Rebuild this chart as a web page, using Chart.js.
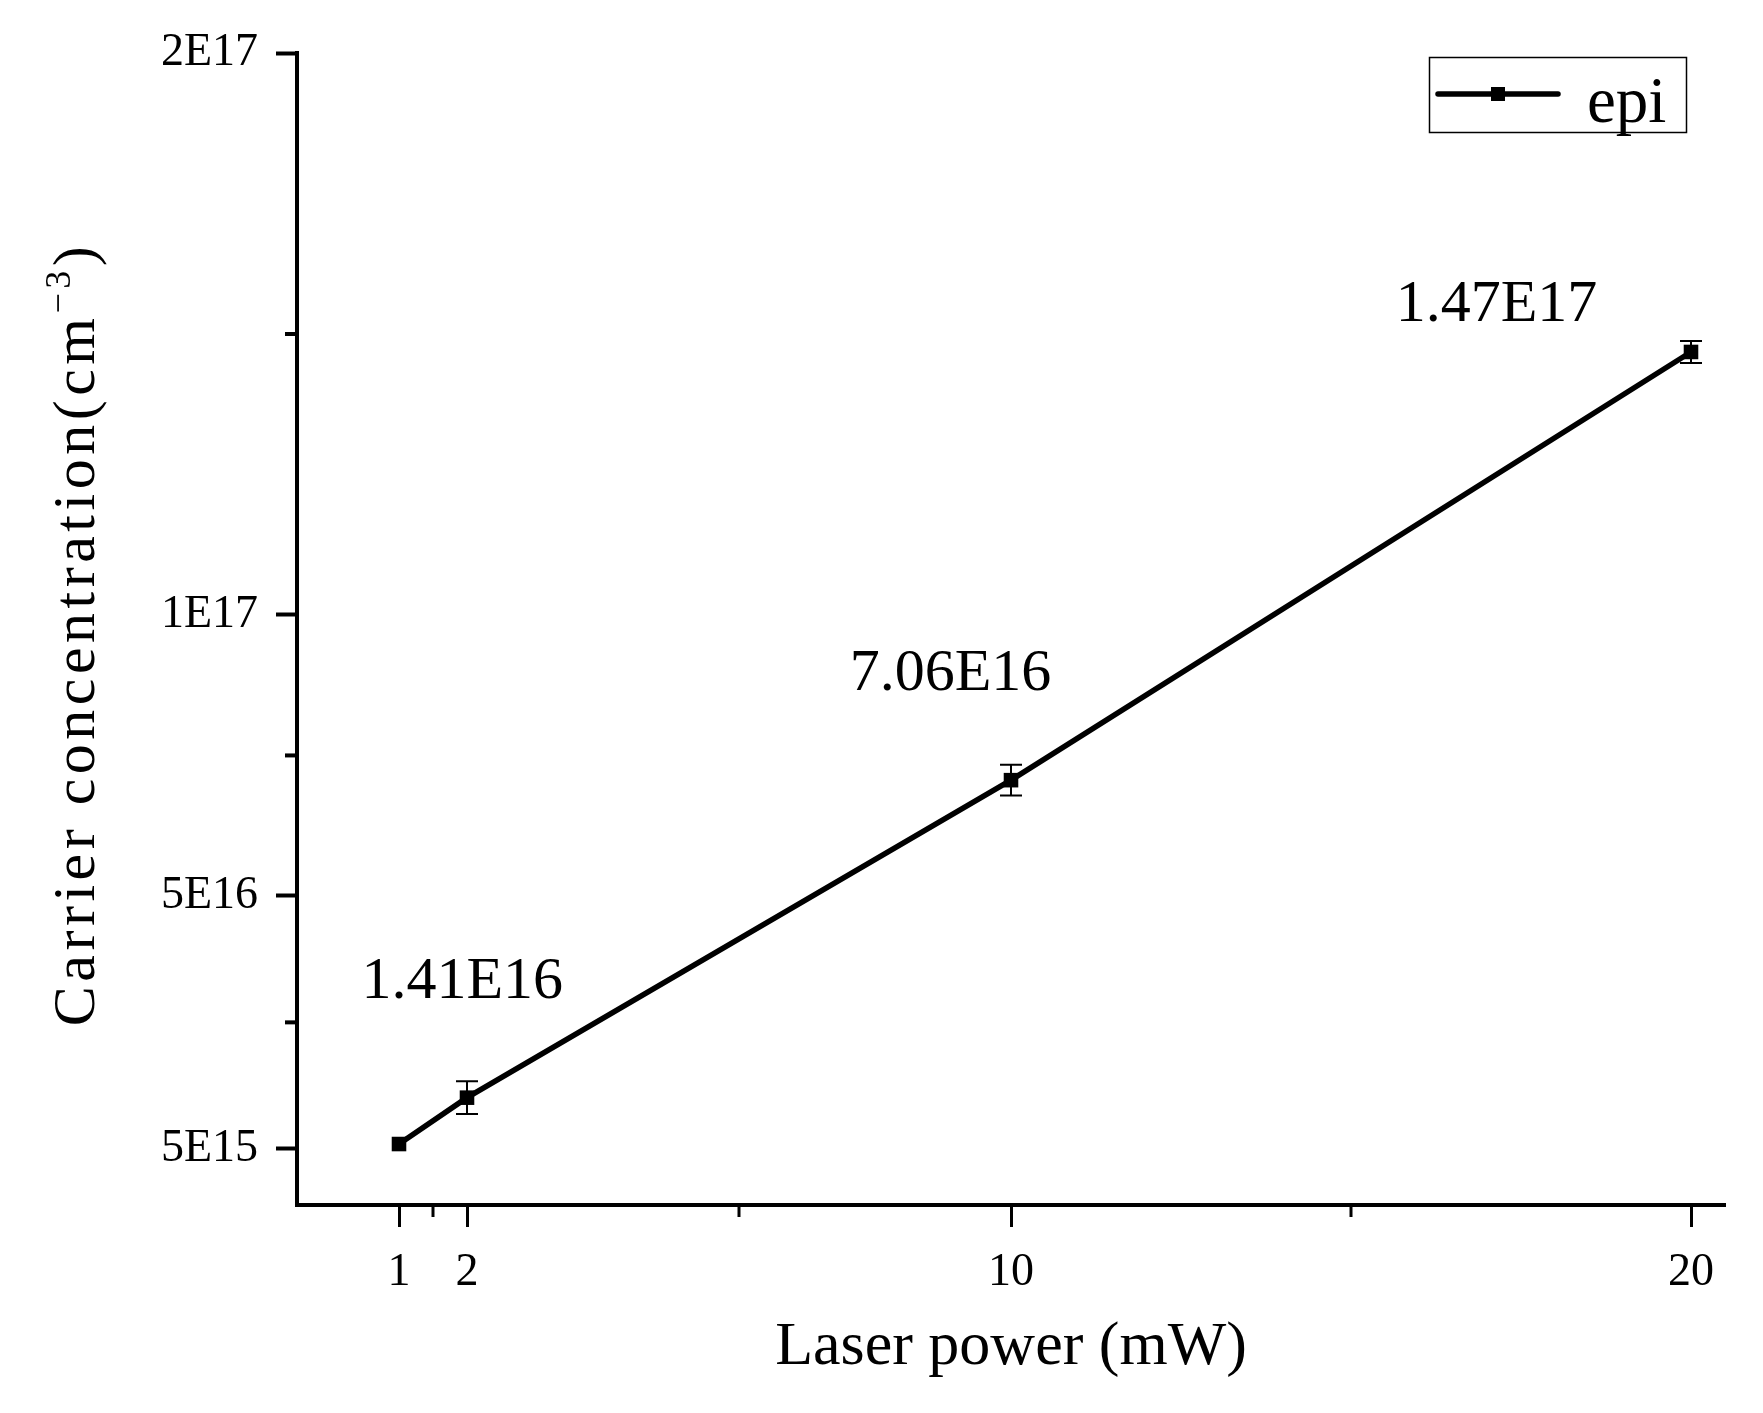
<!DOCTYPE html>
<html><head><meta charset="utf-8">
<script src="https://cdn.jsdelivr.net/npm/chart.js@4/dist/chart.umd.min.js"></script>
<style>html,body{margin:0;padding:0;background:#fff;} canvas{display:block;}</style>
</head><body>
<canvas id="c" width="1763" height="1413"></canvas>
<script>
// ---- data ----
const laserPower = [1, 2, 10, 20];
const carrierConc = [5.85e15, 1.41e16, 7.06e16, 1.468e17];
const concError = [0, 2.9e15, 2.75e15, 1.95e15];
const seriesName = 'epi';
const xMajorTicks = [1, 2, 10, 20];
const xMinorTicks = [1.5, 6, 15];
const yMajorTicks = [5e15, 5e16, 1e17, 2e17];
const yTickLabels = ['5E15', '5E16', '1E17', '2E17'];
const yMinorTicks = [2.75e16, 7.5e16, 1.5e17];
const annotText = ['1.41E16', '7.06E16', '1.47E17'];
const annotX = [1.93, 9.11, 17.14];
const annotY = [3.47e16, 8.95e16, 1.5516e17];
const yTitleMain = 'Carrier concentration(cm';
const yTitleSup = '\u22123';
const yTitleEnd = ')';

const FONT = 'Liberation Serif';

const extras = {
  id: 'extras',
  beforeDatasetsDraw(chart) {
    const {ctx, scales: {x, y}} = chart;
    ctx.save();
    ctx.strokeStyle = '#000';
    ctx.lineWidth = 2;
    laserPower.forEach((xv, i) => {
      const e = concError[i];
      if (!e) return;
      const px = x.getPixelForValue(xv);
      const t = y.getPixelForValue(carrierConc[i] + e);
      const b = y.getPixelForValue(carrierConc[i] - e);
      ctx.beginPath();
      ctx.moveTo(px, t); ctx.lineTo(px, b);
      ctx.moveTo(px - 11, t); ctx.lineTo(px + 11, t);
      ctx.moveTo(px - 11, b); ctx.lineTo(px + 11, b);
      ctx.stroke();
    });
    ctx.restore();
  },
  afterDraw(chart) {
    const {ctx, chartArea: ca, scales: {x, y}} = chart;
    ctx.save();
    // minor ticks
    ctx.strokeStyle = '#000';
    ctx.lineWidth = 3;
    xMinorTicks.forEach(v => {
      const px = x.getPixelForValue(v);
      ctx.beginPath(); ctx.moveTo(px, ca.bottom); ctx.lineTo(px, ca.bottom + 12); ctx.stroke();
    });
    ctx.lineWidth = 4;
    yMinorTicks.forEach(v => {
      const py = y.getPixelForValue(v);
      ctx.beginPath(); ctx.moveTo(ca.left - 12, py); ctx.lineTo(ca.left, py); ctx.stroke();
    });
    // annotations
    ctx.fillStyle = '#000';
    ctx.font = '60px "' + FONT + '"';
    ctx.textAlign = 'center';
    ctx.textBaseline = 'middle';
    annotText.forEach((t, i) => {
      ctx.fillText(t, x.getPixelForValue(annotX[i]), y.getPixelForValue(annotY[i]));
    });
    // y-axis title with superscript
    ctx.save();
    ctx.translate(74, (ca.top + ca.bottom) / 2 + 5);
    ctx.rotate(-Math.PI / 2);
    ctx.textAlign = 'left';
    ctx.textBaseline = 'alphabetic';
    if ('letterSpacing' in ctx) ctx.letterSpacing = '4.5px';
    const mainFont = '60px "' + FONT + '"', supFont = '36px "' + FONT + '"';
    ctx.font = mainFont; const w1 = ctx.measureText(yTitleMain).width; const w3 = ctx.measureText(yTitleEnd).width;
    ctx.font = supFont; const w2 = ctx.measureText(yTitleSup).width;
    let sx = -(w1 + w2 + w3) / 2;
    const base = 20;
    ctx.font = mainFont; ctx.fillText(yTitleMain, sx, base); sx += w1;
    ctx.font = supFont; ctx.fillText(yTitleSup, sx, base - 24); sx += w2;
    ctx.font = mainFont; ctx.fillText(yTitleEnd, sx, base);
    ctx.restore();
    // legend
    const ds = chart.data.datasets[0];
    const bx = ca.right - 296, by = ca.top + 4, bw = 257, bh = 75;
    ctx.lineWidth = 1.5;
    ctx.strokeStyle = '#000';
    ctx.strokeRect(bx + 0.5, by + 0.5, bw, bh);
    const ly = by + 37;
    ctx.lineWidth = ds.borderWidth;
    ctx.lineCap = 'round';
    ctx.strokeStyle = ds.borderColor;
    ctx.beginPath(); ctx.moveTo(bx + 9, ly); ctx.lineTo(bx + 129, ly); ctx.stroke();
    ctx.fillStyle = ds.pointBackgroundColor;
    ctx.fillRect(bx + 69 - 7, ly - 7, 14, 14);
    ctx.fillStyle = '#000';
    ctx.font = '65px "' + FONT + '"';
    ctx.textAlign = 'left';
    ctx.textBaseline = 'alphabetic';
    ctx.fillText(ds.label, bx + 158, by + 65);
    ctx.restore();
  }
};

new Chart(document.getElementById('c'), {
  type: 'line',
  data: {
    datasets: [{
      label: seriesName,
      data: laserPower.map((xv, i) => ({x: xv, y: carrierConc[i]})),
      borderColor: '#000',
      backgroundColor: '#000',
      borderWidth: 5.5,
      pointStyle: 'rect',
      pointRadius: 10.3,
      pointBackgroundColor: '#000',
      pointBorderWidth: 0,
      tension: 0
    }]
  },
  options: {
    responsive: false,
    animation: false,
    devicePixelRatio: 1,
    layout: {padding: {left: 0, right: 38, top: 53, bottom: 0}},
    plugins: {legend: {display: false}, tooltip: {enabled: false}},
    scales: {
      x: {
        type: 'linear', min: -0.5, max: 20.5,
        afterBuildTicks: s => { s.ticks = xMajorTicks.map(v => ({value: v})); },
        afterFit: s => { s.height = 208; },
        border: {display: true, color: '#000', width: 4},
        grid: {display: true, drawOnChartArea: false, drawTicks: true, tickLength: 22, tickWidth: 3, tickColor: '#000'},
        ticks: {color: '#000', font: {family: FONT, size: 46}, padding: 18, maxRotation: 0, autoSkip: false, callback: v => String(v)},
        title: {display: true, text: 'Laser power (mW)', color: '#000', font: {family: FONT, size: 62}, padding: {top: 0, bottom: 28}}
      },
      y: {
        type: 'linear', min: -5e15, max: 2e17,
        afterBuildTicks: s => { s.ticks = yMajorTicks.map(v => ({value: v})); },
        afterFit: s => { s.width = 297; },
        border: {display: true, color: '#000', width: 4},
        grid: {display: true, drawOnChartArea: false, drawTicks: true, tickLength: 21, tickWidth: 4, tickColor: '#000'},
        ticks: {color: '#000', font: {family: FONT, size: 46}, padding: 18, autoSkip: false, callback: v => yTickLabels[yMajorTicks.indexOf(v)]},
        title: {display: false}
      }
    }
  },
  plugins: [extras]
});
</script>
</body></html>
